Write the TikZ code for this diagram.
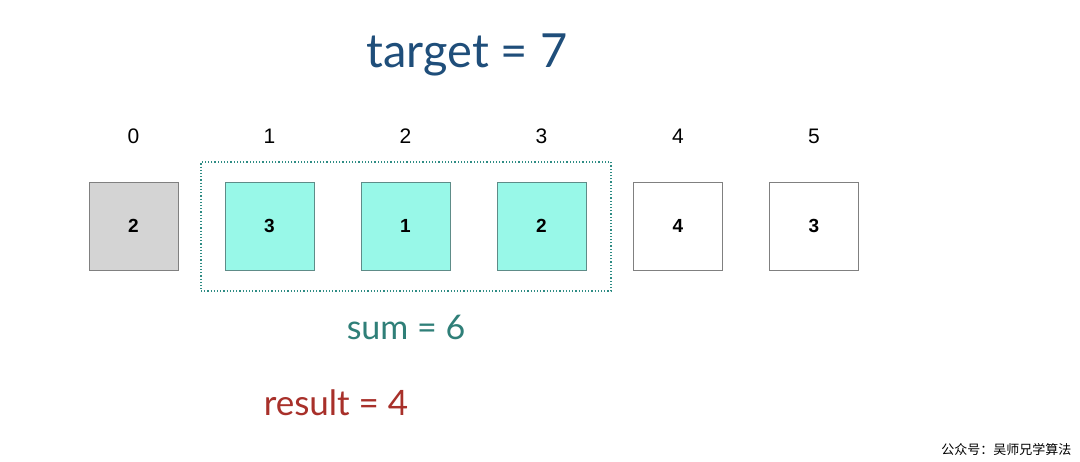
\documentclass[tikz,border=0pt]{standalone}
\usepackage{fontspec}
\setmainfont{Lato}
\newfontfamily\boxfont{Liberation Sans}
\newfontfamily\cjkfont{Noto Sans CJK SC}
\definecolor{titleblue}{HTML}{1F4E7A}
\definecolor{sumteal}{HTML}{2F7F78}
\definecolor{resred}{HTML}{A8302A}
\definecolor{cyanfill}{HTML}{98F8E8}
\definecolor{cyanedge}{HTML}{5E8C88}
\definecolor{grayfill}{HTML}{D4D4D4}
\definecolor{grayedge}{HTML}{808080}
\definecolor{dotteal}{HTML}{2E8C84}
\begin{document}
\begin{tikzpicture}[x=1pt,y=-1pt,
  cell/.style={draw=grayedge,line width=0.8pt,minimum width=89pt,minimum height=88pt,inner sep=0pt,font=\boxfont\bfseries\fontsize{19}{19}\selectfont},
  idx/.style={font=\boxfont\fontsize{21}{21}\selectfont},
  cur/.style={cell,fill=cyanfill,draw=cyanedge},
  done/.style={cell,fill=grayfill}]
\useasboundingbox (0,0) rectangle (1080,462);
\fill[white] (0,0) rectangle (1080,462);
\node[font=\fontsize{47}{47}\selectfont,text=titleblue] (title) at (467,55) {target = 7};
\foreach \i/\x in {0/133.5,1/269.5,2/405.5,3/541.5,4/678,5/814}{
  \node[idx] (i\i) at (\x,136) {\i};
}
\node[done] (b0) at (133.5,226) {2};
\node[cur] (b1) at (269.5,226) {3};
\node[cur] (b2) at (405.5,226) {1};
\node[cur] (b3) at (541.5,226) {2};
\node[cell] (b4) at (678,226) {4};
\node[cell] (b5) at (814,226) {3};
\node[draw=dotteal,dotted,line width=1.2pt,minimum width=410pt,minimum height=129pt,inner sep=0pt] (win) at (406,226.5) {};
\node[font=\fontsize{34}{34}\selectfont,text=sumteal] (sum) at (406,327) {sum = 6};
\node[font=\fontsize{35}{35}\selectfont,text=resred] (res) at (336,403) {result = 4};
\node[font=\cjkfont\fontsize{13}{13}\selectfont,anchor=east] (pub) at (1075,450) {公众号：吴师兄学算法};
\end{tikzpicture}
\end{document}
